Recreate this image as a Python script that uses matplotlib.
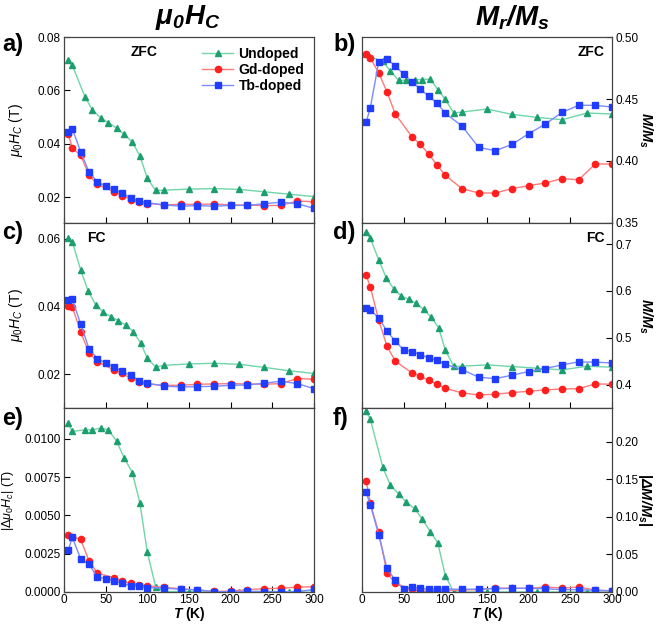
import numpy as np
import matplotlib
matplotlib.use("Agg")
from matplotlib import pyplot as plt
from matplotlib.ticker import FormatStrFormatter

plt.rcParams["font.family"] = ["Liberation Sans", "DejaVu Sans"]
plt.rcParams["mathtext.fontset"] = "custom"
plt.rcParams["mathtext.rm"] = "Liberation Sans"
plt.rcParams["mathtext.it"] = "Liberation Sans:italic"
plt.rcParams["mathtext.bf"] = "Liberation Sans:bold"
plt.rcParams["mathtext.bfit"] = "Liberation Sans:bold:italic"

# temperatures (K)
T_u = [5, 10, 25, 34, 44, 53, 63, 72, 82, 91, 100, 110, 120, 150, 180, 210, 240, 270, 300]
T_uf = [5, 10, 20, 29, 38, 47, 56, 65, 74, 83, 92, 100, 110, 120, 150, 180, 210, 240, 270, 300]
T_gd = [5, 10, 20, 30, 40, 60, 70, 80, 90, 100, 120, 140, 160, 180, 200, 220, 240, 260, 280, 300]
T_tb = [5, 10, 20, 30, 40, 50, 60, 70, 80, 90, 100, 120, 140, 160, 180, 200, 220, 240, 260, 280, 300]

# a) mu0Hc ZFC
hc_zfc_u = [0.0713, 0.0694, 0.0577, 0.0527, 0.0497, 0.0479, 0.0459, 0.0436, 0.0406, 0.0355,
            0.0270, 0.0225, 0.0226, 0.0230, 0.0232, 0.0229, 0.0220, 0.0211, 0.0202]
hc_zfc_gd = [0.0438, 0.0383, 0.0357, 0.0282, 0.0248, 0.0220, 0.0206, 0.0191, 0.0181, 0.0176,
             0.0171, 0.0173, 0.0173, 0.0174, 0.0171, 0.0170, 0.0168, 0.0169, 0.0185, 0.0183]
hc_zfc_tb = [0.0445, 0.0456, 0.0370, 0.0294, 0.0257, 0.0242, 0.0229, 0.0214, 0.0198, 0.0186, 0.0179,
             0.0171, 0.0166, 0.0168, 0.0166, 0.0169, 0.0169, 0.0175, 0.0181, 0.0175, 0.0158]

# c) mu0Hc FC
hc_fc_u = [0.0604, 0.0591, 0.0509, 0.0446, 0.0406, 0.0384, 0.0371, 0.0359, 0.0346, 0.0326,
           0.0293, 0.0248, 0.0222, 0.0227, 0.0231, 0.0233, 0.0230, 0.0221, 0.0211, 0.0203]
hc_fc_gd = [0.0403, 0.0400, 0.0325, 0.0264, 0.0238, 0.0213, 0.0203, 0.0189, 0.0179, 0.0172,
            0.0168, 0.0168, 0.0171, 0.0172, 0.0173, 0.0172, 0.0171, 0.0173, 0.0188, 0.0186]
hc_fc_tb = [0.0420, 0.0422, 0.0349, 0.0276, 0.0247, 0.0234, 0.0222, 0.0209, 0.0197, 0.0182, 0.0174,
            0.0166, 0.0163, 0.0164, 0.0165, 0.0168, 0.0169, 0.0174, 0.0180, 0.0173, 0.0158]

# e) |delta mu0Hc|
dhc_u = [0.01099, 0.01047, 0.01058, 0.01058, 0.01069, 0.01058, 0.00985, 0.00877, 0.00778, 0.00582,
         0.00259, 0.00034, 0.00003, 0.00003, 0.00002, 0.00002, 0.00005, 0.00002, 0.00010]
dhc_gd = [0.00373, 0.00360, 0.00343, 0.00203, 0.00123, 0.00093, 0.00071, 0.00056, 0.00045, 0.00041,
          0.00030, 0.00022, 0.00013, 0.00004, 0.00006, 0.00015, 0.00022, 0.00024, 0.00032, 0.00034]
dhc_tb = [0.00272, 0.00356, 0.00216, 0.00181, 0.00097, 0.00086, 0.00075, 0.00056, 0.00041, 0.00037, 0.00028,
          0.00026, 0.00017, 0.00015, 0.00002, 0.00002, 0.00004, 0.00002, 0.00002, 0.00002, 0.00017]

# b) Mr/Ms ZFC
mr_zfc_u = [0.4860, 0.4839, 0.4804, 0.4726, 0.4651, 0.4651, 0.4656, 0.4656, 0.4661, 0.4575,
            0.4497, 0.4387, 0.4395, 0.4419, 0.4376, 0.4352, 0.4333, 0.4387, 0.4379]
mr_zfc_gd = [0.4860, 0.4830, 0.4712, 0.4556, 0.4379, 0.4194, 0.4134, 0.4056, 0.3968, 0.3884,
             0.3777, 0.3742, 0.3742, 0.3777, 0.3801, 0.3823, 0.3858, 0.3849, 0.3976, 0.3976]
mr_zfc_tb = [0.4312, 0.4430, 0.4796, 0.4820, 0.4766, 0.4699, 0.4637, 0.4581, 0.4522, 0.4468, 0.4384,
             0.4282, 0.4110, 0.4083, 0.4134, 0.4220, 0.4298, 0.4392, 0.4449, 0.4449, 0.4435]

# d) Mr/Ms FC
mr_fc_u = [0.7250, 0.7122, 0.6666, 0.6281, 0.6046, 0.5896, 0.5818, 0.5739, 0.5604, 0.5440,
           0.5212, 0.4734, 0.4392, 0.4392, 0.4421, 0.4385, 0.4349, 0.4314, 0.4392, 0.4371]
mr_fc_gd = [0.6331, 0.6088, 0.5376, 0.4820, 0.4499, 0.4249, 0.4178, 0.4093, 0.4007, 0.3922,
            0.3822, 0.3779, 0.3793, 0.3829, 0.3857, 0.3886, 0.3907, 0.3914, 0.4014, 0.4007]
mr_fc_tb = [0.5632, 0.5589, 0.5426, 0.5140, 0.4927, 0.4741, 0.4706, 0.4641, 0.4570, 0.4520, 0.4435,
            0.4321, 0.4157, 0.4128, 0.4200, 0.4278, 0.4342, 0.4421, 0.4485, 0.4478, 0.4463]

# f) |delta Mr/Ms|
dmr_u = [0.2411, 0.2300, 0.1660, 0.1422, 0.1307, 0.1196, 0.1113, 0.0976, 0.0804, 0.0653,
         0.0216, 0.0, 0.0, 0.0, 0.0, 0.0, 0.0, 0.0, 0.0]
dmr_gd = [0.1483, 0.1180, 0.0795, 0.0256, 0.0115, 0.0035, 0.0013, 0.0009, 0.0009, 0.0018,
          0.0026, 0.0031, 0.0053, 0.0049, 0.0049, 0.0066, 0.0053, 0.0066, 0.0026, 0.0013]
dmr_tb = [0.1325, 0.1161, 0.0764, 0.0313, 0.0155, 0.0035, 0.0066, 0.0049, 0.0035, 0.0040, 0.0040,
          0.0035, 0.0040, 0.0044, 0.0049, 0.0049, 0.0044, 0.0031, 0.0031, 0.0022, 0.0018]

labels = ["Undoped", "Gd-doped", "Tb-doped"]
line_colors = ["#6fd6a8", "#ff7a7a", "#7a8cff"]
mark_colors = ["#1c9e6e", "#ff1f1f", "#1f3cff"]
markers = ["^", "o", "s"]


def draw(ax, series):
    for (t, y), lc, mc, mk, lab in zip(series, line_colors, mark_colors, markers, labels):
        ax.plot(t, y, color=lc, lw=1.0, marker=mk, ms=4.5, mfc=mc, mec=mc, label=lab)


W, H = 661, 625
fig = plt.figure(figsize=(W / 100, H / 100), dpi=100)


def frac_axes(x0, y0, x1, y1):
    return fig.add_axes([x0 / W, 1 - y1 / H, (x1 - x0) / W, (y1 - y0) / H])


rows = [(37, 223), (223, 408), (408, 592)]
ax_a = frac_axes(64, rows[0][0], 314, rows[0][1])
ax_c = frac_axes(64, rows[1][0], 314, rows[1][1])
ax_e = frac_axes(64, rows[2][0], 314, rows[2][1])
ax_b = frac_axes(362, rows[0][0], 612, rows[0][1])
ax_d = frac_axes(362, rows[1][0], 612, rows[1][1])
ax_f = frac_axes(362, rows[2][0], 612, rows[2][1])

draw(ax_a, [(T_u, hc_zfc_u), (T_gd, hc_zfc_gd), (T_tb, hc_zfc_tb)])
draw(ax_c, [(T_uf, hc_fc_u), (T_gd, hc_fc_gd), (T_tb, hc_fc_tb)])
draw(ax_e, [(T_u, dhc_u), (T_gd, dhc_gd), (T_tb, dhc_tb)])
draw(ax_b, [(T_u, mr_zfc_u), (T_gd, mr_zfc_gd), (T_tb, mr_zfc_tb)])
draw(ax_d, [(T_uf, mr_fc_u), (T_gd, mr_fc_gd), (T_tb, mr_fc_tb)])
draw(ax_f, [(T_u, dmr_u), (T_gd, dmr_gd), (T_tb, dmr_tb)])

for ax in [ax_a, ax_c, ax_e, ax_b, ax_d, ax_f]:
    ax.set_xlim(0, 300)
    ax.set_xticks(np.arange(0, 301, 50))
    ax.tick_params(direction="in", labelsize=8.5, length=4, width=0.8, pad=2.5)
    ax.tick_params(axis="x", pad=1.5)
    for s in ax.spines.values():
        s.set_linewidth(0.9)
        s.set_color("#444444")
for ax in [ax_a, ax_c, ax_b, ax_d]:
    ax.tick_params(labelbottom=False)
for ax in [ax_b, ax_d, ax_f]:
    ax.yaxis.tick_right()
    ax.yaxis.set_label_position("right")

ax_a.set_ylim(0.0103, 0.08)
ax_a.set_yticks([0.02, 0.04, 0.06, 0.08])
ax_a.yaxis.set_major_formatter(FormatStrFormatter("%.2f"))
ax_c.set_ylim(0.0101, 0.0647)
ax_c.set_yticks([0.02, 0.04, 0.06])
ax_c.yaxis.set_major_formatter(FormatStrFormatter("%.2f"))
ax_e.set_ylim(0, 0.012)
ax_e.set_yticks([0, 0.0025, 0.005, 0.0075, 0.01])
ax_e.yaxis.set_major_formatter(FormatStrFormatter("%.4f"))
ax_b.set_ylim(0.35, 0.50)
ax_b.set_yticks([0.35, 0.40, 0.45, 0.50])
ax_b.yaxis.set_major_formatter(FormatStrFormatter("%.2f"))
ax_d.set_ylim(0.35, 0.745)
ax_d.set_yticks([0.4, 0.5, 0.6, 0.7])
ax_d.yaxis.set_major_formatter(FormatStrFormatter("%.1f"))
ax_f.set_ylim(0, 0.245)
ax_f.set_yticks([0, 0.05, 0.10, 0.15, 0.20])
ax_f.yaxis.set_major_formatter(FormatStrFormatter("%.2f"))

ax_a.set_ylabel(r"$\mu_0H_C$ (T)", fontsize=10)
ax_c.set_ylabel(r"$\mu_0H_C$ (T)", fontsize=10)
ax_e.set_ylabel(r"|$\mathit{\Delta\mu_0H_c}$| (T)", fontsize=9)
ax_a.yaxis.set_label_coords(-0.155, 0.5)
ax_c.yaxis.set_label_coords(-0.155, 0.5)
ax_e.yaxis.set_label_coords(-0.19, 0.5)
ax_b.set_ylabel(r"$\mathbfit{M/M_s}$", fontsize=10.5, rotation=270)
ax_d.set_ylabel(r"$\mathbfit{M/M_s}$", fontsize=10.5, rotation=270)
ax_f.set_ylabel(r"$\mathbf{|}\mathbfit{\Delta M/M_s}\mathbf{|}$", fontsize=10.5, rotation=270)
for ax in [ax_b, ax_d, ax_f]:
    ax.yaxis.set_label_coords(1.17, 0.5)

for ax in [ax_e, ax_f]:
    ax.set_xlabel(r"$\mathbfit{T}$ $\mathbf{(K)}$", fontsize=10, labelpad=-0.5)

ax_a.text(0.32, 0.9, "ZFC", transform=ax_a.transAxes, fontsize=10, fontweight="bold", ha="center")
ax_b.text(0.97, 0.9, "ZFC", transform=ax_b.transAxes, fontsize=10, fontweight="bold", ha="right")
ax_c.text(0.13, 0.9, "FC", transform=ax_c.transAxes, fontsize=10, fontweight="bold", ha="center")
ax_d.text(0.97, 0.9, "FC", transform=ax_d.transAxes, fontsize=10, fontweight="bold", ha="right")

ax_a.legend(loc="upper right", bbox_to_anchor=(1.0, 1.0), frameon=False,
            prop={"weight": "bold", "size": 10}, handlelength=2.2, handletextpad=0.4,
            labelspacing=0.15, borderaxespad=0.3)

for lab, x, y in [("a)", 2, 45), ("c)", 2, 232), ("e)", 2, 418),
                  ("b)", 333, 45), ("d)", 333, 232), ("f)", 333, 418)]:
    fig.text(x / W, 1 - y / H, lab, fontsize=17, fontweight="bold", va="center", ha="left")

fig.text(188 / W, 1 - 18 / H, r"$\mathbfit{\mu_0H_C}$", fontsize=20, ha="center", va="center")
fig.text(512 / W, 1 - 18 / H, r"$\mathbfit{M_r/M_s}$", fontsize=20, ha="center", va="center")

fig.savefig("out.png", dpi=100)
